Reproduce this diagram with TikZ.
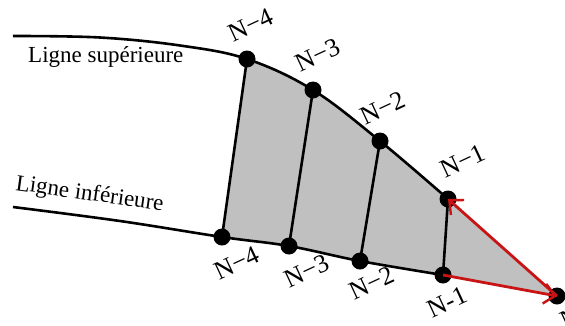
\documentclass[tikz,border=0pt]{standalone}
\usepackage{fontspec}
\setmainfont{Liberation Serif}
\usetikzlibrary{arrows.meta}
\definecolor{fillgray}{RGB}{192,192,192}
\definecolor{arrowred}{RGB}{200,20,20}
\tikzset{
  dot/.style={circle,fill=black,inner sep=0pt,minimum size=17pt},
  edge/.style={line width=2.6pt,black},
  vec/.style={line width=2.8pt,arrowred,-{Straight Barb[length=11pt,width=20pt,line width=2.4pt]}},
  lab/.style={font=\fontsize{26}{26}\selectfont,rotate=25,inner sep=0pt},
  title/.style={font=\fontsize{23}{23}\selectfont,inner sep=0pt}
}
\begin{document}
\begin{tikzpicture}[x=1pt,y=-1pt]
\useasboundingbox (0,0) rectangle (565,325);
% coordinates
\coordinate (U4) at (247,59);
\coordinate (U3) at (313,90);
\coordinate (U2) at (380,141);
\coordinate (U1) at (448,199);
\coordinate (L4) at (222,237);
\coordinate (L3) at (289,246);
\coordinate (L2) at (360,261);
\coordinate (L1) at (443,275);
\coordinate (NN) at (557,296);
% fill
\fill[fillgray] plot[smooth,tension=0.6] coordinates {(247,59) (313,90) (380,141) (448,199)}
  -- (557,296) -- (443,275) -- (360,261) -- (289,246) -- (222,237) -- cycle;
% upper line
\draw[edge] plot[smooth,tension=0.6] coordinates {(13,36) (100,37.5) (180,45.5) (247,59) (313,90) (380,141) (448,199)};
% lower line
\draw[edge] plot[smooth,tension=0.6] coordinates {(13,207) (120,221) (222,237) (289,246) (360,261) (443,275)};
% verticals
\draw[edge] (U4) -- (L4);
\draw[edge] (U3) -- (L3);
\draw[edge] (U2) -- (L2);
\draw[edge] (U1) -- (L1);
% dots
\node[dot] (u4) at (U4) {};
\node[dot] (u3) at (U3) {};
\node[dot] (u2) at (U2) {};
\node[dot] (u1) at (U1) {};
\node[dot] (l4) at (L4) {};
\node[dot] (l3) at (L3) {};
\node[dot] (l2) at (L2) {};
\node[dot] (l1) at (L1) {};
\node[dot] (n) at (NN) {};
% red vectors
\draw[vec] (l1.center) -- (n.center);
\draw[vec] (n.center) -- (u1.center);
% labels
\node[lab] (tu4) at (251,25) {N−4};
\node[lab] (tu3) at (318,55) {N−3};
\node[lab] (tu2) at (383,108) {N−2};
\node[lab] (tu1) at (463,161) {N−1};
\node[lab] (tl4) at (237,263) {N−4};
\node[lab] (tl3) at (307,271) {N−3};
\node[lab] (tl2) at (372,283) {N−2};
\node[lab] (tl1) at (447,302) {N-1};
\node[lab] (tn) at (570,318) {N};
\node[title,anchor=base west] (ts) at (28,62) {Ligne supérieure};
\node[title,anchor=base west,rotate=-8] (ti) at (15,190) {Ligne inférieure};
\end{tikzpicture}
\end{document}
